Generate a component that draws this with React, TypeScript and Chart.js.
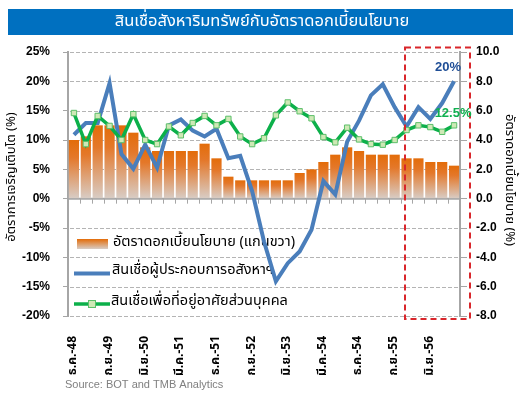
import React, { useEffect, useRef } from "react";
import { Chart, registerables } from "chart.js";

Chart.register(...registerables);

const categories = [
  "ธ.ค.-48", "มี.ค.-49", "มิ.ย.-49", "ก.ย.-49", "ธ.ค.-49", "มี.ค.-50", "มิ.ย.-50", "ก.ย.-50",
  "ธ.ค.-50", "มี.ค.-51", "มิ.ย.-51", "ก.ย.-51", "ธ.ค.-51", "มี.ค.-52", "มิ.ย.-52", "ก.ย.-52",
  "ธ.ค.-52", "มี.ค.-53", "มิ.ย.-53", "ก.ย.-53", "ธ.ค.-53", "มี.ค.-54", "มิ.ย.-54", "ก.ย.-54",
  "ธ.ค.-54", "มี.ค.-55", "มิ.ย.-55", "ก.ย.-55", "ธ.ค.-55", "มี.ค.-56", "มิ.ย.-56", "ก.ย.-56",
  "ธ.ค.-56",
];

const policyRate = [
  4.0, 4.25, 5.0, 5.0, 5.0, 4.5, 3.5, 3.25, 3.25, 3.25, 3.25, 3.75, 2.75, 1.5, 1.25, 1.25,
  1.25, 1.25, 1.25, 1.75, 2.0, 2.5, 3.0, 3.5, 3.25, 3.0, 3.0, 3.0, 2.75, 2.75, 2.5, 2.5, 2.25,
];

const businessLoans = [
  10.9, 12.9, 12.9, 19.7, 7.6, 5.1, 9.2, 5.3, 12.5, 13.5, 11.6, 10.6, 11.9, 6.9, 7.3, 1.3,
  -7.3, -14.1, -11.0, -9.0, -5.3, 3.0, 0.7, 9.7, 13.3, 17.6, 19.5, 15.6, 12.3, 15.6, 13.6, 16.3, 20.0,
];

const housingLoans = [
  14.6, 9.3, 14.1, 12.4, 10.0, 14.4, 10.0, 9.3, 12.3, 10.8, 12.9, 14.1, 12.5, 13.6, 10.6, 9.3,
  10.3, 14.2, 16.4, 14.9, 13.7, 10.5, 9.6, 12.1, 10.1, 9.3, 9.2, 10.0, 11.7, 12.5, 12.2, 11.4, 12.5,
];

const leftTicks = { min: -20, max: 25, step: 5 };
const rightTicks = { min: -8, max: 10, step: 2 };

const seriesNames = [
  "อัตราดอกเบี้ยนโยบาย (แกนขวา)",
  "สินเชื่อผู้ประกอบการอสังหาฯ",
  "สินเชื่อเพื่อที่อยู่อาศัยส่วนบุคคล",
];
const chartTitle = "สินเชื่อสังหาริมทรัพย์กับอัตราดอกเบี้ยนโยบาย";
const leftTitle = "อัตราการเจริญเติบโต (%)";
const rightTitle = "อัตราดอกเบี้ยนโยบาย (%)";
const sourceText = "Source: BOT and TMB Analytics";
const lastBusinessLabel = "20%";
const lastHousingLabel = "12.5%";

const THAI = "Tahoma, 'Noto Sans Thai', 'Noto Sans', 'DejaVu Sans', sans-serif";
const ARIAL = "'Liberation Sans', Arial, sans-serif";

const ORANGE_TOP = "#e36c09";
const ORANGE_BOT = "#d8cdc6";
const BLUE = "#4a7ebb";
const GREEN = "#0cb04a";

export default function App() {
  const ref = useRef<HTMLCanvasElement | null>(null);

  useEffect(() => {
    if (!ref.current) return;

    const customPlugin = {
      id: "custom",
      beforeDatasetsDraw(chart: any) {
        const ctx = chart.ctx;
        const ca = chart.chartArea;
        const yL = chart.scales.y;
        const y2 = chart.scales.y2;
        const y0 = y2.getPixelForValue(0);
        ctx.save();
        // dashed horizontal gridlines from the left scale's ticks
        ctx.strokeStyle = "#b4b4b4";
        ctx.lineWidth = 1;
        ctx.setLineDash([4, 2]);
        yL.ticks.forEach((t: any) => {
          if (t.value === 0) return;
          const yy = Math.round(yL.getPixelForValue(t.value)) + 0.5;
          ctx.beginPath();
          ctx.moveTo(ca.left + 2, yy);
          ctx.lineTo(ca.right - 1, yy);
          ctx.stroke();
        });
        ctx.setLineDash([]);
        // zero axis line with category ticks
        ctx.strokeStyle = "#a6a6a6";
        ctx.lineWidth = 2;
        ctx.beginPath();
        ctx.moveTo(ca.left, y0);
        ctx.lineTo(ca.right, y0);
        ctx.stroke();
        ctx.lineWidth = 1;
        const n = categories.length;
        const w = (ca.right - ca.left) / n;
        for (let k = 1; k < n; k++) {
          const xx = Math.round(ca.left + k * w) + 0.5;
          ctx.beginPath();
          ctx.moveTo(xx, y0);
          ctx.lineTo(xx, y0 + 5);
          ctx.stroke();
        }
        // legend
        const g = ctx.createLinearGradient(0, 239, 0, 249);
        g.addColorStop(0, ORANGE_TOP);
        g.addColorStop(1, ORANGE_BOT);
        ctx.fillStyle = g;
        ctx.fillRect(77, 239, 31, 10);
        ctx.strokeStyle = BLUE;
        ctx.lineWidth = 4;
        ctx.beginPath();
        ctx.moveTo(74, 273.5);
        ctx.lineTo(110, 273.5);
        ctx.stroke();
        ctx.strokeStyle = GREEN;
        ctx.lineWidth = 3.5;
        ctx.beginPath();
        ctx.moveTo(74, 304);
        ctx.lineTo(110, 304);
        ctx.stroke();
        ctx.fillStyle = "#cfe9b6";
        ctx.strokeStyle = "#5cbf6a";
        ctx.lineWidth = 1;
        ctx.fillRect(88.5, 300.5, 7, 7);
        ctx.strokeRect(88.5, 300.5, 7, 7);
        ctx.fillStyle = "#000";
        ctx.font = `14.5px ${THAI}`;
        ctx.textAlign = "left";
        ctx.textBaseline = "middle";
        ctx.fillText(seriesNames[0], 113, 243);
        ctx.fillText(seriesNames[1], 112, 271.5);
        ctx.fillText(seriesNames[2], 111, 302);
        ctx.restore();
      },
      afterDraw(chart: any) {
        const ctx = chart.ctx;
        ctx.save();
        // title bar
        ctx.fillStyle = "#0070c0";
        ctx.fillRect(8, 9, 505, 26);
        ctx.fillStyle = "#ffffff";
        ctx.font = `16.5px ${THAI}`;
        ctx.textAlign = "center";
        ctx.textBaseline = "middle";
        ctx.fillText(chartTitle, 262, 22.5);
        // axis titles
        ctx.fillStyle = "#000";
        ctx.font = `13px ${THAI}`;
        ctx.save();
        ctx.translate(12.5, 177);
        ctx.rotate(-Math.PI / 2);
        ctx.fillText(leftTitle, 0, 0);
        ctx.restore();
        ctx.save();
        ctx.translate(509, 180);
        ctx.rotate(Math.PI / 2);
        ctx.fillText(rightTitle, 0, 0);
        ctx.restore();
        // dashed red box
        ctx.strokeStyle = "#d9262b";
        ctx.lineWidth = 2;
        ctx.setLineDash([6, 4]);
        ctx.strokeRect(405, 47.5, 65, 271.5);
        ctx.setLineDash([]);
        // end labels
        const meta1 = chart.getDatasetMeta(1);
        const meta2 = chart.getDatasetMeta(2);
        const last = categories.length - 1;
        const p1 = meta1.data[last];
        const p2 = meta2.data[last];
        ctx.font = `bold 13px ${ARIAL}`;
        ctx.textAlign = "center";
        ctx.fillStyle = "#1f4e96";
        ctx.fillText(lastBusinessLabel, p1.x - 6, p1.y - 14);
        ctx.fillStyle = "#10b050";
        ctx.fillText(lastHousingLabel, p2.x - 1, p2.y - 12);
        // source
        ctx.font = `11px ${ARIAL}`;
        ctx.textAlign = "left";
        ctx.fillStyle = "#808080";
        ctx.fillText(sourceText, 65, 384.5);
        ctx.restore();
      },
    };

    const chart = new Chart(ref.current, {
      type: "bar",
      data: {
        labels: categories,
        datasets: [
          {
            type: "bar",
            label: seriesNames[0],
            data: policyRate,
            yAxisID: "y2",
            order: 3,
            categoryPercentage: 1,
            barPercentage: 0.86,
            backgroundColor: (c: any) => {
              const ch = c.chart;
              if (!ch.chartArea || c.type !== "data") return ORANGE_TOP;
              const s = ch.scales.y2;
              const top = s.getPixelForValue(c.raw);
              const bot = s.getPixelForValue(0);
              const g = ch.ctx.createLinearGradient(0, top, 0, bot);
              g.addColorStop(0, ORANGE_TOP);
              g.addColorStop(0.3, "#e4782a");
              g.addColorStop(1, ORANGE_BOT);
              return g;
            },
          },
          {
            type: "line",
            label: seriesNames[1],
            data: businessLoans,
            yAxisID: "y",
            order: 2,
            borderColor: BLUE,
            borderWidth: 4,
            pointRadius: 0,
            tension: 0,
          },
          {
            type: "line",
            label: seriesNames[2],
            data: housingLoans,
            yAxisID: "y",
            order: 1,
            borderColor: GREEN,
            borderWidth: 3.5,
            pointStyle: "rect",
            pointRadius: 3.8,
            pointBackgroundColor: "#cfe9b6",
            pointBorderColor: "#5cbf6a",
            pointBorderWidth: 1,
            tension: 0,
          },
        ],
      },
      options: {
        responsive: false,
        animation: false,
        devicePixelRatio: 1,
        layout: { padding: { top: 52, left: 0, right: 0, bottom: 0 } },
        plugins: { legend: { display: false }, tooltip: { enabled: false }, title: { display: false } },
        scales: {
          x: {
            grid: { display: false },
            border: { display: false },
            afterFit: (s: any) => { s.height = 77; },
            ticks: {
              autoSkip: false,
              maxRotation: 90,
              minRotation: 90,
              padding: 12,
              color: "#000",
              font: { family: THAI, size: 12, weight: "bold" },
              callback: (_v: any, i: number) => (i % 3 === 0 ? categories[i] : ""),
            },
          },
          y: {
            position: "left",
            min: leftTicks.min,
            max: leftTicks.max,
            afterFit: (s: any) => { s.width = 68; },
            ticks: {
              stepSize: leftTicks.step,
              padding: 13,
              color: "#000",
              font: { family: ARIAL, size: 12, weight: "bold" },
              callback: (v: any) => `${v}%`,
            },
            grid: {
              drawOnChartArea: false,
              tickLength: 5,
              tickWidth: 1,
              tickColor: "#a6a6a6",
            },
            border: { display: true, color: "#a6a6a6", width: 2 },
          },
          y2: {
            position: "right",
            min: rightTicks.min,
            max: rightTicks.max,
            afterFit: (s: any) => { s.width = 67; },
            ticks: {
              stepSize: rightTicks.step,
              padding: 9,
              color: "#000",
              font: { family: ARIAL, size: 12, weight: "bold" },
              callback: (v: any) => Number(v).toFixed(1),
            },
            grid: {
              drawOnChartArea: false,
              tickLength: 7,
              tickWidth: 1,
              tickColor: "#a6a6a6",
            },
            border: { display: true, color: "#a6a6a6", width: 2 },
          },
        },
      },
      plugins: [customPlugin],
    });
    return () => chart.destroy();
  }, []);

  return (
    <div style={{ position: "absolute", left: 0, top: 0, width: 527, height: 393, background: "#fff" }}>
      <canvas ref={ref} width={527} height={393} style={{ width: 527, height: 393, display: "block" }} />
    </div>
  );
}
